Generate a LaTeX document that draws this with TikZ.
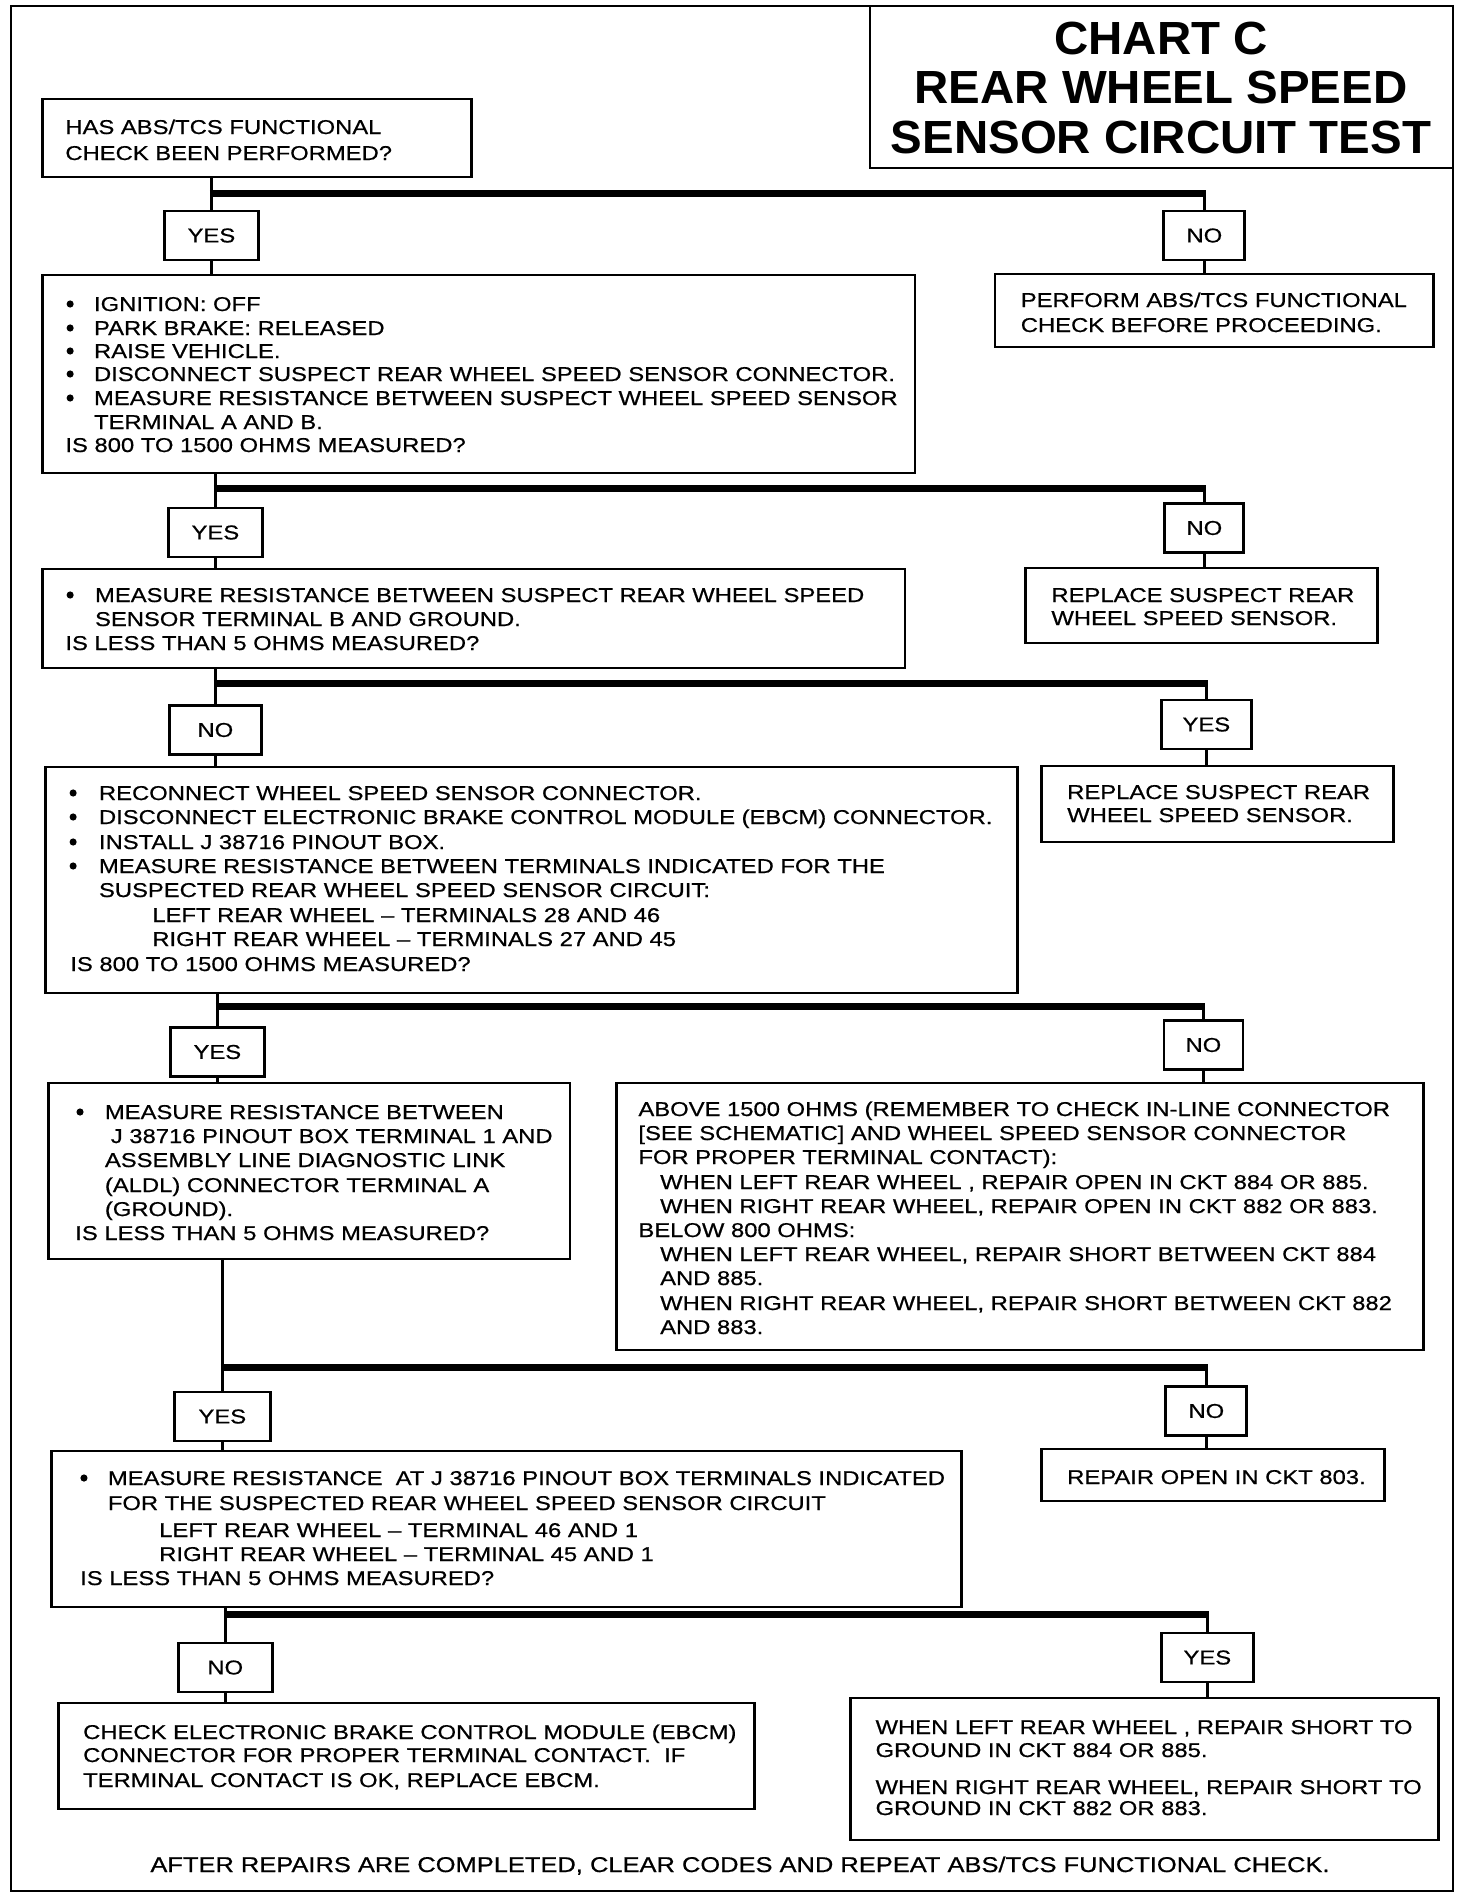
\documentclass[tikz,border=0pt]{standalone}
\usepackage{fontspec}
\setmainfont{Liberation Sans}[FakeStretch=1.19, FakeBold=0.6]
\newfontfamily\titlefont{Liberation Sans}[FakeStretch=1.02]
\newcommand{\bodyfont}{\fontsize{20}{24}\selectfont}
\newcommand{\titlesize}{\titlefont\bfseries\fontsize{46.5}{50}\selectfont}
\newcommand{\bx}[5]{\node[box, minimum width={0.988*(#4-#2)}, minimum height={#5-#3}] (#1) at ({(#2+#4)/2},{(#3+#5)/2}) {};}
\newcommand{\tline}[4]{\node[txt] (#1) at (#2,#3) {#4};}
\newcommand{\bul}[2]{\fill (#1,#2) circle (3.6);}
\begin{document}
\begin{tikzpicture}[x=1pt,y=-1pt,
  txt/.style={inner sep=0, anchor=base west, font=\bodyfont},
  box/.style={draw, line width=2.8pt, inner sep=0},
  yn/.style={draw, line width=2.8pt, inner sep=0, minimum height=49, font=\bodyfont},
  vl/.style={line width=3pt},
  bar/.style={line width=7pt}]
\useasboundingbox (0,0) rectangle (1472,1898);
\fill[white] (0,0) rectangle (1472,1898);
\draw[line width=2.8pt] (11,6) rectangle (1453,1891);
% title
\node[draw, line width=2.8pt, inner sep=0, minimum width=583, minimum height=162] (title) at (1161.5,87) {};
\node[inner sep=0, anchor=base, font=\titlesize] (t1) at (1161,54) {CHART C};
\node[inner sep=0, anchor=base, font=\titlesize] (t2) at (1161,103) {REAR WHEEL SPEED};
\node[inner sep=0, anchor=base, font=\titlesize] (t3) at (1161,153) {SENSOR CIRCUIT TEST};
\begin{scope}[xscale=0.988]
% boxes
\bx{A}{43}{99}{477}{177}
\bx{B}{43}{275}{926}{473}
\bx{Br}{1007}{274}{1451}{347}
\bx{C}{43}{569}{916}{668}
\bx{Cr}{1038}{568}{1394}{643}
\bx{D}{46}{767}{1030}{993}
\bx{Dr}{1054}{766}{1410}{842}
\bx{E}{49}{1083}{577}{1259}
\bx{Er}{624}{1083}{1441}{1350}
\bx{F}{52}{1451}{973}{1607}
\bx{Fr}{1054}{1449}{1401}{1501}
\bx{G}{59}{1703}{764}{1809}
\bx{Gr}{861}{1698}{1456}{1840}
% yes/no boxes
\node[yn, minimum width=94] (y1) at (214,235.5) {YES};
\node[yn, minimum width=81] (n1) at (1219,235.5) {NO};
\node[yn, minimum width=94] (y2) at (218,532.5) {YES};
\node[yn, minimum width=79] (n2) at (1219,528) {NO};
\node[yn, minimum width=92] (n3) at (218,730) {NO};
\node[yn, minimum width=90] (y3) at (1221,724.5) {YES};
\node[yn, minimum width=94] (y4) at (220,1052) {YES};
\node[yn, minimum width=79] (n4) at (1218,1045) {NO};
\node[yn, minimum width=96] (y5) at (225,1416.5) {YES};
\node[yn, minimum width=81] (n5) at (1221,1411) {NO};
\node[yn, minimum width=94] (n6) at (228,1667.5) {NO};
\node[yn, minimum width=92] (y6) at (1222,1657.5) {YES};
% bar levels
\coordinate (h1) at (0,193);
\coordinate (h2) at (0,488);
\coordinate (h3) at (0,683);
\coordinate (h4) at (0,1006);
\coordinate (h5) at (0,1367);
\coordinate (h6) at (0,1614);
% connectors stage 1
\draw[vl] (A.south -| y1) -- (y1.north);
\draw[vl] (y1.south) -- (y1.south |- B.north);
\draw[bar] ([xshift=-1.5pt]y1 |- h1) -- ([xshift=1.5pt]n1 |- h1);
\draw[vl] (n1 |- h1) -- (n1.north);
\draw[vl] (n1.south) -- (n1.south |- Br.north);
% stage 2
\draw[vl] (B.south -| y2) -- (y2.north);
\draw[vl] (y2.south) -- (y2.south |- C.north);
\draw[bar] ([xshift=-1.5pt]y2 |- h2) -- ([xshift=1.5pt]n2 |- h2);
\draw[vl] (n2 |- h2) -- (n2.north);
\draw[vl] (n2.south) -- (n2.south |- Cr.north);
% stage 3
\draw[vl] (C.south -| n3) -- (n3.north);
\draw[vl] (n3.south) -- (n3.south |- D.north);
\draw[bar] ([xshift=-1.5pt]n3 |- h3) -- ([xshift=1.5pt]y3 |- h3);
\draw[vl] (y3 |- h3) -- (y3.north);
\draw[vl] (y3.south) -- (y3.south |- Dr.north);
% stage 4
\draw[vl] (D.south -| y4) -- (y4.north);
\draw[vl] (y4.south) -- (y4.south |- E.north);
\draw[bar] ([xshift=-1.5pt]y4 |- h4) -- ([xshift=1.5pt]n4 |- h4);
\draw[vl] (n4 |- h4) -- (n4.north);
\draw[vl] (n4.south) -- (n4.south |- Er.north);
% stage 5
\draw[vl] (E.south -| y5) -- (y5.north);
\draw[vl] (y5.south) -- (y5.south |- F.north);
\draw[bar] ([xshift=-1.5pt]y5 |- h5) -- ([xshift=1.5pt]n5 |- h5);
\draw[vl] (n5 |- h5) -- (n5.north);
\draw[vl] (n5.south) -- (n5.south |- Fr.north);
% stage 6
\draw[vl] (F.south -| n6) -- (n6.north);
\draw[vl] (n6.south) -- (n6.south |- G.north);
\draw[bar] ([xshift=-1.5pt]n6 |- h6) -- ([xshift=1.5pt]y6 |- h6);
\draw[vl] (y6 |- h6) -- (y6.north);
\draw[vl] (y6.south) -- (y6.south |- Gr.north);
% texts A
\tline{a1}{66}{134}{HAS ABS/TCS FUNCTIONAL}
\tline{a2}{66}{160}{CHECK BEEN PERFORMED?}
% B
\bul{71}{304}\bul{71}{328}\bul{71}{351}\bul{71}{374}\bul{71}{398}
\tline{b1}{95}{311}{IGNITION: OFF}
\tline{b2}{95}{335}{PARK BRAKE: RELEASED}
\tline{b3}{95}{358}{RAISE VEHICLE.}
\tline{b4}{95}{381}{DISCONNECT SUSPECT REAR WHEEL SPEED SENSOR CONNECTOR.}
\tline{b5}{95}{405}{MEASURE RESISTANCE BETWEEN SUSPECT WHEEL SPEED SENSOR}
\tline{b6}{95}{429}{TERMINAL A AND B.}
\tline{b7}{66}{452}{IS 800 TO 1500 OHMS MEASURED?}
% Br
\tline{br1}{1033}{307}{PERFORM ABS/TCS FUNCTIONAL}
\tline{br2}{1033}{332}{CHECK BEFORE PROCEEDING.}
% C
\bul{71}{595}
\tline{c1}{96}{602}{MEASURE RESISTANCE BETWEEN SUSPECT REAR WHEEL SPEED}
\tline{c2}{96}{626}{SENSOR TERMINAL B AND GROUND.}
\tline{c3}{66}{650}{IS LESS THAN 5 OHMS MEASURED?}
% Cr
\tline{cr1}{1064}{602}{REPLACE SUSPECT REAR}
\tline{cr2}{1064}{625}{WHEEL SPEED SENSOR.}
% D
\bul{74}{793}\bul{74}{817}\bul{74}{842}\bul{74}{866}
\tline{d1}{100}{800}{RECONNECT WHEEL SPEED SENSOR CONNECTOR.}
\tline{d2}{100}{824}{DISCONNECT ELECTRONIC BRAKE CONTROL MODULE (EBCM) CONNECTOR.}
\tline{d3}{100}{849}{INSTALL J 38716 PINOUT BOX.}
\tline{d4}{100}{873}{MEASURE RESISTANCE BETWEEN TERMINALS INDICATED FOR THE}
\tline{d5}{100}{897}{SUSPECTED REAR WHEEL SPEED SENSOR CIRCUIT:}
\tline{d6}{154}{922}{LEFT REAR WHEEL – TERMINALS 28 AND 46}
\tline{d7}{154}{946}{RIGHT REAR WHEEL – TERMINALS 27 AND 45}
\tline{d8}{71}{971}{IS 800 TO 1500 OHMS MEASURED?}
% Dr
\tline{dr1}{1080}{799}{REPLACE SUSPECT REAR}
\tline{dr2}{1080}{822}{WHEEL SPEED SENSOR.}
% E
\bul{81}{1112}
\tline{e1}{106}{1119}{MEASURE RESISTANCE BETWEEN}
\tline{e2}{112}{1143}{J 38716 PINOUT BOX TERMINAL 1 AND}
\tline{e3}{106}{1167}{ASSEMBLY LINE DIAGNOSTIC LINK}
\tline{e4}{106}{1192}{(ALDL) CONNECTOR TERMINAL A}
\tline{e5}{106}{1216}{(GROUND).}
\tline{e6}{76}{1240}{IS LESS THAN 5 OHMS MEASURED?}
% Er
\tline{er1}{646}{1116}{ABOVE 1500 OHMS (REMEMBER TO CHECK IN-LINE CONNECTOR}
\tline{er2}{646}{1140}{[SEE SCHEMATIC] AND WHEEL SPEED SENSOR CONNECTOR}
\tline{er3}{646}{1164}{FOR PROPER TERMINAL CONTACT):}
\tline{er4}{668}{1189}{WHEN LEFT REAR WHEEL , REPAIR OPEN IN CKT 884 OR 885.}
\tline{er5}{668}{1213}{WHEN RIGHT REAR WHEEL, REPAIR OPEN IN CKT 882 OR 883.}
\tline{er6}{646}{1237}{BELOW 800 OHMS:}
\tline{er7}{668}{1261}{WHEN LEFT REAR WHEEL, REPAIR SHORT BETWEEN CKT 884}
\tline{er8}{668}{1285}{AND 885.}
\tline{er9}{668}{1310}{WHEN RIGHT REAR WHEEL, REPAIR SHORT BETWEEN CKT 882}
\tline{er10}{668}{1334}{AND 883.}
% F
\bul{85}{1478}
\tline{f1}{109}{1485}{MEASURE RESISTANCE\ \ AT J 38716 PINOUT BOX TERMINALS INDICATED}
\tline{f2}{109}{1510}{FOR THE SUSPECTED REAR WHEEL SPEED SENSOR CIRCUIT}
\tline{f3}{161}{1537}{LEFT REAR WHEEL – TERMINAL 46 AND 1}
\tline{f4}{161}{1561}{RIGHT REAR WHEEL – TERMINAL 45 AND 1}
\tline{f5}{81}{1585}{IS LESS THAN 5 OHMS MEASURED?}
% Fr
\tline{fr1}{1080}{1484}{REPAIR OPEN IN CKT 803.}
% G
\tline{g1}{84}{1739}{CHECK ELECTRONIC BRAKE CONTROL MODULE (EBCM)}
\tline{g2}{84}{1762}{CONNECTOR FOR PROPER TERMINAL CONTACT.\ \ IF}
\tline{g3}{84}{1787}{TERMINAL CONTACT IS OK, REPLACE EBCM.}
% Gr
\tline{gr1}{886}{1734}{WHEN LEFT REAR WHEEL , REPAIR SHORT TO}
\tline{gr2}{886}{1757}{GROUND IN CKT 884 OR 885.}
\tline{gr3}{886}{1794}{WHEN RIGHT REAR WHEEL, REPAIR SHORT TO}
\tline{gr4}{886}{1815}{GROUND IN CKT 882 OR 883.}
% footer
\node[txt, anchor=base, font=\fontsize{21.4}{24}\selectfont] (foot) at (749,1872) {AFTER REPAIRS ARE COMPLETED, CLEAR CODES AND REPEAT ABS/TCS FUNCTIONAL CHECK.};
\end{scope}
\end{tikzpicture}
\end{document}
